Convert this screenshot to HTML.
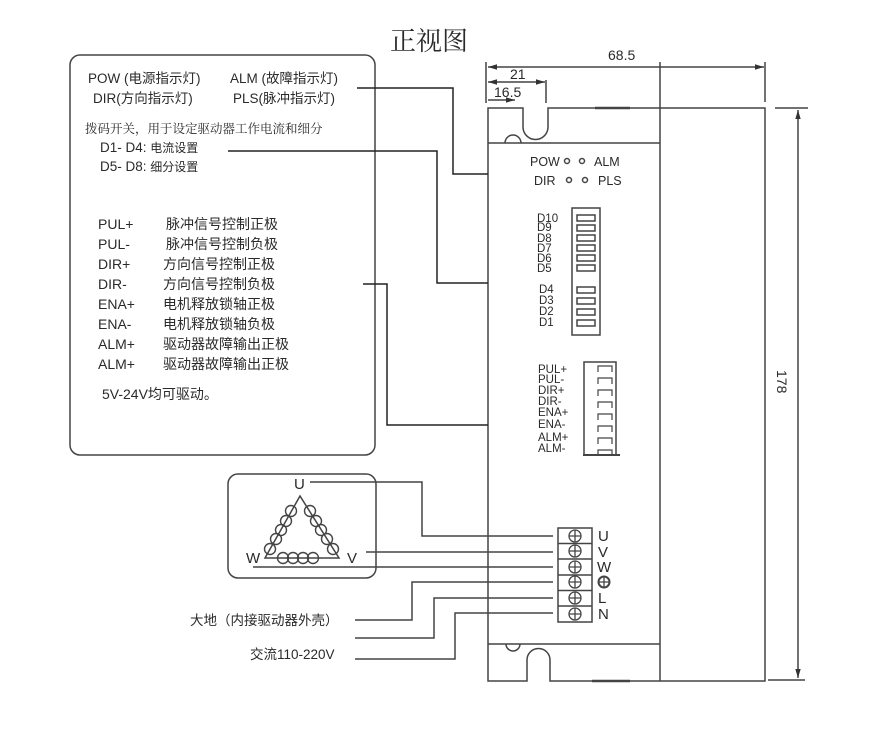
<!DOCTYPE html>
<html><head><meta charset="utf-8"><style>
html,body{margin:0;padding:0;background:#fff}
svg{display:block}
text{font-family:"Liberation Sans","Noto Sans CJK SC",sans-serif;fill:#2a2a2a}
</style></head><body>
<svg width="893" height="737" viewBox="0 0 893 737" xmlns="http://www.w3.org/2000/svg">
<defs><marker id="a" viewBox="0 0 10 10" refX="10" refY="5" markerWidth="8" markerHeight="6" orient="auto-start-reverse"><path d="M0,2 L10,5 L0,8z" fill="#333"/></marker></defs>
<text x="390" y="50" font-size="26" style="font-family:'Noto Serif CJK SC',serif">正视图</text>
<g stroke="#444" fill="none" stroke-width="1.5">
<line x1="486" y1="62" x2="486" y2="103"/>
<line x1="660" y1="62" x2="660" y2="681"/>
<line x1="765" y1="62" x2="765" y2="102"/>
<line x1="488" y1="67" x2="764" y2="67" marker-start="url(#a)" marker-end="url(#a)"/>
<line x1="546" y1="80" x2="546" y2="103"/>
<line x1="488" y1="82" x2="545" y2="82" marker-start="url(#a)" marker-end="url(#a)"/>
<line x1="488" y1="100" x2="515" y2="100" marker-end="url(#a)"/>
<line x1="775" y1="108" x2="808" y2="108"/>
<line x1="768" y1="680" x2="805" y2="680"/>
<line x1="798" y1="110" x2="798" y2="678" marker-start="url(#a)" marker-end="url(#a)"/>
<path d="M488,108 H523 V127 A12.5,12.5 0 0 0 548,127 V108 H765 V681 H550 V660 A11.5,11.5 0 0 0 527,660 V681 H488 Z"/>
<line x1="488" y1="143" x2="660" y2="143"/>
<path d="M505,143 A8,8 0 0 1 521,143"/>
<line x1="488" y1="644" x2="660" y2="644"/>
<path d="M506,644 A7,7 0 0 0 520,644"/>
<line x1="595" y1="108" x2="630" y2="108" stroke-width="2.5"/>
<line x1="592" y1="681" x2="630" y2="681" stroke-width="2.5"/>
<rect x="70" y="55" width="305" height="400" rx="10"/>
<polyline points="357,88 453,88 453,174 488,174" stroke="#222"/>
<polyline points="228,151 437,151 437,283 488,283" stroke="#222"/>
<polyline points="363,284 387,284 387,425 488,425" stroke="#222"/>
<circle cx="567" cy="161" r="2.5"/><circle cx="582" cy="161" r="2.5"/>
<circle cx="569" cy="180" r="2.5"/><circle cx="585" cy="180" r="2.5"/>
<rect x="572" y="208" width="28" height="127"/>
<rect x="577" y="215" width="18" height="6"/><rect x="577" y="225" width="18" height="6"/>
<rect x="577" y="235" width="18" height="6"/><rect x="577" y="245" width="18" height="6"/>
<rect x="577" y="255" width="18" height="6"/><rect x="577" y="265" width="18" height="6"/>
<rect x="577" y="287" width="18" height="6"/><rect x="577" y="298" width="18" height="6"/>
<rect x="577" y="309" width="18" height="6"/><rect x="577" y="320" width="18" height="6"/>
<polyline points="584,455 584,362 616,362 616,455"/>
<line x1="583" y1="455" x2="620" y2="455" stroke-width="2"/>
<g stroke-width="1.2">
<path d="M598,372 V366 H612 V372 M598,384 V378 H612 V384 M598,396 V390 H612 V396 M598,408 V402 H612 V408 M598,420 V414 H612 V420 M598,432 V426 H612 V432 M598,444 V438 H612 V444 M598,455 V450 H612 V455"/>
</g>
<rect x="228" y="474" width="148" height="104" rx="10"/>
<path d="M265,558 L300,496 L339,558 Z"/>
<g stroke-width="1.4">
<circle cx="270" cy="549" r="5.5"/><circle cx="276" cy="539" r="5.5"/><circle cx="281" cy="530" r="5.5"/><circle cx="286" cy="521" r="5.5"/><circle cx="291" cy="511" r="5.5"/>
<circle cx="333" cy="549" r="5.5"/><circle cx="327" cy="539" r="5.5"/><circle cx="321" cy="530" r="5.5"/><circle cx="316" cy="521" r="5.5"/><circle cx="310" cy="511" r="5.5"/>
<circle cx="283" cy="558" r="5.5"/><circle cx="293" cy="558" r="5.5"/><circle cx="303" cy="558" r="5.5"/><circle cx="313" cy="558" r="5.5"/>
</g>
<polyline points="310,482 422,482 422,536 553,536"/>
<line x1="366" y1="552" x2="553" y2="552"/>
<line x1="253" y1="567" x2="553" y2="567"/>
<polyline points="355,620 412,620 412,582 553,582"/>
<polyline points="355,638 434,638 434,598 553,598"/>
<polyline points="355,659 455,659 455,613 553,613"/>
<rect x="558" y="528" width="34" height="94"/>
<line x1="558" y1="543.5" x2="592" y2="543.5"/><line x1="558" y1="559" x2="592" y2="559"/>
<line x1="558" y1="575" x2="592" y2="575"/><line x1="558" y1="590.5" x2="592" y2="590.5"/>
<line x1="558" y1="606" x2="592" y2="606"/>
<g stroke-width="1.3">
<circle cx="575" cy="536" r="6"/><path d="M569,536 H581 M575,530 V542"/>
<circle cx="575" cy="551" r="6"/><path d="M569,551 H581 M575,545 V557"/>
<circle cx="575" cy="567" r="6"/><path d="M569,567 H581 M575,561 V573"/>
<circle cx="575" cy="582" r="6"/><path d="M569,582 H581 M575,576 V588"/>
<circle cx="575" cy="598" r="6"/><path d="M569,598 H581 M575,592 V604"/>
<circle cx="575" cy="614" r="6"/><path d="M569,614 H581 M575,608 V620"/>
<circle cx="604" cy="582" r="5.5" stroke-width="2"/><path d="M598.5,582 H609.5 M604,576.5 V587.5"/>
</g>
</g>
<text x="608" y="60" font-size="14">68.5</text>
<text x="510" y="79" font-size="14">21</text>
<text x="494" y="97" font-size="14">16.5</text>
<text transform="translate(777,370) rotate(90)" font-size="14">178</text>
<g font-size="13.5">
<text x="88" y="83">POW (电源指示灯)</text>
<text x="230" y="83">ALM (故障指示灯)</text>
<text x="93" y="103">DIR(方向指示灯)</text>
<text x="233" y="103">PLS(脉冲指示灯)</text>
<text x="85" y="133" font-size="12.5" style="font-family:'Noto Serif CJK SC',serif">拨码开关，用于设定驱动器工作电流和细分</text>
<text x="100" y="152">D1-  D4: <tspan font-size="12">电流设置</tspan></text>
<text x="100" y="171">D5-  D8: <tspan font-size="12">细分设置</tspan></text>
</g>
<g font-size="14">
<text x="98" y="229">PUL+</text><text x="166" y="229">脉冲信号控制正极</text>
<text x="98" y="249">PUL-</text><text x="166" y="249">脉冲信号控制负极</text>
<text x="98" y="269">DIR+</text><text x="163" y="269">方向信号控制正极</text>
<text x="98" y="289">DIR-</text><text x="163" y="289">方向信号控制负极</text>
<text x="98" y="309">ENA+</text><text x="163" y="309">电机释放锁轴正极</text>
<text x="98" y="329">ENA-</text><text x="163" y="329">电机释放锁轴负极</text>
<text x="98" y="349">ALM+</text><text x="163" y="349">驱动器故障输出正极</text>
<text x="98" y="369">ALM+</text><text x="163" y="369">驱动器故障输出正极</text>
<text x="102" y="399">5V-24V均可驱动。</text>
</g>
<g font-size="12.5">
<text x="530" y="166">POW</text><text x="594" y="166">ALM</text>
<text x="534" y="185">DIR</text><text x="598" y="185">PLS</text>
</g>
<g font-size="11.5">
<text x="537" y="222">D10</text><text x="537" y="231">D9</text><text x="537" y="242">D8</text>
<text x="537" y="252">D7</text><text x="537" y="262">D6</text><text x="537" y="272">D5</text>
<text x="539" y="293">D4</text><text x="539" y="304">D3</text><text x="539" y="315">D2</text><text x="539" y="326">D1</text>
<text x="538" y="373">PUL+</text><text x="538" y="383">PUL-</text><text x="538" y="394">DIR+</text>
<text x="538" y="405">DIR-</text><text x="538" y="416">ENA+</text><text x="538" y="428">ENA-</text>
<text x="538" y="441">ALM+</text><text x="538" y="452">ALM-</text>
</g>
<g font-size="15">
<text x="294" y="489">U</text><text x="246" y="563">W</text><text x="347" y="563">V</text>
<text x="598" y="541">U</text><text x="598" y="557">V</text><text x="597" y="572">W</text>
<text x="598" y="603">L</text><text x="598" y="619">N</text>
</g>
<text x="190" y="625" font-size="13.5">大地（内接驱动器外壳）</text>
<text x="250" y="659" font-size="13.5">交流110-220V</text>
</svg>
</body></html>
